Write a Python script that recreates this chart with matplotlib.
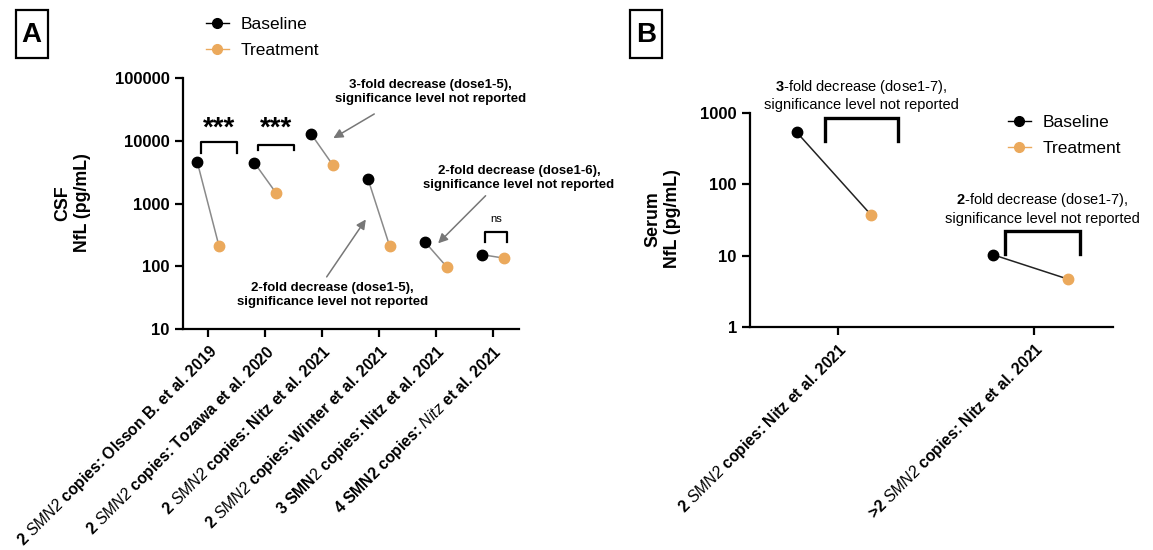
import numpy as np
import matplotlib.pyplot as plt
from matplotlib.lines import Line2D
from matplotlib.patches import Rectangle
from matplotlib.ticker import FuncFormatter, NullLocator

plt.rcParams['font.family'] = ['Liberation Sans', 'DejaVu Sans']
plt.rcParams['mathtext.fontset'] = 'custom'
plt.rcParams['mathtext.rm'] = 'Liberation Sans:italic'
plt.rcParams['mathtext.it'] = 'Liberation Sans:italic'
plt.rcParams['mathtext.bf'] = 'Liberation Sans:bold'
plt.rcParams['mathtext.sf'] = 'Liberation Sans'

# panel A: CSF NfL
csf_labels = [
    r'2 $SMN2$ copies: Olsson B. et al. 2019',
    r'2 $SMN2$ copies: Tozawa et al. 2020',
    r'2 $SMN2$ copies: Nitz et al. 2021',
    r'2 $SMN2$ copies: Winter et al. 2021',
    r'3 SMN$\mathsf{2}$ copies: Nitz et al. 2021',
    r'4 SMN2 copies: $Nitz$ et al. 2021',
]
csf_baseline = [4600, 4500, 12800, 2430, 243, 153]
csf_treatment = [213, 1490, 4120, 208, 98, 135]

# panel B: serum NfL
serum_labels = [
    r'2 $SMN2$ copies: Nitz et al. 2021',
    r'>2 $SMN2$ copies: Nitz et al. 2021',
]
serum_baseline = [540, 10.3]
serum_treatment = [37, 4.7]

black = '#000000'
orange = '#EBA95C'
W, H = 1153, 550

fig = plt.figure(figsize=(11.53, 5.5), dpi=100)
axA = fig.add_axes([183 / W, 1 - 329 / H, 336 / W, 251 / H])
axB = fig.add_axes([750 / W, 1 - 327 / H, 363 / W, 214 / H])


def style_axis(ax):
    ax.set_yscale('log')
    ax.yaxis.set_minor_locator(NullLocator())
    ax.yaxis.set_major_formatter(FuncFormatter(lambda v, p: f'{v:g}'))
    for s in ['top', 'right']:
        ax.spines[s].set_visible(False)
    for s in ['left', 'bottom']:
        ax.spines[s].set_linewidth(1.6)
    ax.tick_params(direction='out', length=6, width=1.6, labelsize=12)
    for t in ax.get_yticklabels():
        t.set_fontweight('bold')


# ---- panel A
x = np.arange(len(csf_labels))
off = 0.19
for i in range(len(x)):
    axA.plot([x[i] - off, x[i] + off], [csf_baseline[i], csf_treatment[i]],
             color='#8a8a8a', lw=1.1, zorder=1)
axA.plot(x - off, csf_baseline, 'o', color=black, ms=7.5, zorder=3, ls='none')
axA.plot(x + off, csf_treatment, 'o', color=orange, ms=7.5, zorder=3, ls='none')
axA.set_ylim(10, 100000)
axA.set_xlim(-0.44, 5.46)
axA.set_yticks([10, 100, 1000, 10000, 100000])
style_axis(axA)
axA.set_xticks(x)
axA.set_xticklabels(csf_labels, rotation=45, ha='right', rotation_mode='anchor',
                    fontweight='bold', fontsize=11.3)

# significance brackets
for x0, x1, ytop, ybot, txt, fs, ty in [
        (-0.12, 0.51, 9570, 6470, '***', 20, 15500),
        (0.88, 1.51, 8670, 7200, '***', 20, 15500),
        (4.86, 5.25, 346, 240, 'ns', 8, 560)]:
    axA.plot([x0, x0, x1, x1], [ybot, ytop, ytop, ybot], color=black, lw=1.6,
             clip_on=False)
    axA.text((x0 + x1) / 2, ty, txt, ha='center', va='center', fontsize=fs,
             fontweight='bold' if txt != 'ns' else 'normal')

arrow = dict(arrowstyle='-|>', color='#777777', lw=1.1, mutation_scale=14,
             shrinkA=2, shrinkB=0)
axA.annotate('3-fold decrease (dose1-5),\nsignificance level not reported',
             xy=(2.2, 11000), xytext=(3.9, 60000), textcoords='data',
             ha='center', va='center', fontsize=9.5, fontweight='bold',
             annotation_clip=False, arrowprops=dict(arrow, relpos=(0.22, -0.3)))
axA.annotate('2-fold decrease (dose1-5),\nsignificance level not reported',
             xy=(2.77, 557), xytext=(2.19, 35), textcoords='data',
             ha='center', va='center', fontsize=9.5, fontweight='bold',
             annotation_clip=False, arrowprops=dict(arrow, relpos=(0.45, 1)))
axA.annotate('2-fold decrease (dose1-6),\nsignificance level not reported',
             xy=(4.04, 232), xytext=(5.46, 2540), textcoords='data',
             ha='center', va='center', fontsize=9.5, fontweight='bold',
             annotation_clip=False, arrowprops=dict(arrow, relpos=(0.35, 0)))

fig.text(73 / W, 1 - 203 / H, 'CSF\nNfL (pg/mL)', rotation=90, ha='center',
         va='center', multialignment='center', fontsize=12.8, fontweight='bold')

# ---- panel B
xb = np.arange(len(serum_labels))
for i in range(len(xb)):
    axB.plot([xb[i] - 0.21, xb[i] + 0.17], [serum_baseline[i], serum_treatment[i]],
             color='#222222', lw=1.1, zorder=1)
axB.plot(xb - 0.21, serum_baseline, 'o', color=black, ms=7.5, zorder=3, ls='none')
axB.plot(xb + 0.17, serum_treatment, 'o', color=orange, ms=7.5, zorder=3, ls='none')
axB.set_ylim(1, 1000)
axB.set_xlim(-0.447, 1.40)
axB.set_yticks([1, 10, 100, 1000])
style_axis(axB)
axB.set_xticks(xb)
axB.set_xticklabels(serum_labels, rotation=45, ha='right', rotation_mode='anchor',
                    fontweight='bold', fontsize=11.3)

for x0, x1, ytop, ybot in [(-0.066, 0.305, 851, 405), (0.853, 1.234, 22.2, 10.6)]:
    axB.plot([x0, x0, x1, x1], [ybot, ytop, ytop, ybot], color=black, lw=2.4,
             clip_on=False, solid_joinstyle='miter')
axB.text(0.12, 1766, r'$\mathbf{3}$-fold decrease (dose1-7),' + '\nsignificance level not reported',
         ha='center', va='center', fontsize=10.5)
axB.text(1.04, 45.9, r'$\mathbf{2}$-fold decrease (dose1-7),' + '\nsignificance level not reported',
         ha='center', va='center', fontsize=10.5)
fig.text(663 / W, 1 - 219 / H, 'Serum\nNfL (pg/mL)', rotation=90, ha='center',
         va='center', multialignment='center', fontsize=12.8, fontweight='bold')

# legends
handles = [Line2D([], [], color=black, marker='o', ms=7, lw=1, label='Baseline'),
           Line2D([], [], color=orange, marker='o', ms=7, lw=1, label='Treatment')]
leg_kw = dict(loc='upper left', frameon=False, fontsize=12.5, handlelength=1.3,
              handletextpad=0.7, labelspacing=0.62, borderaxespad=0)
fig.legend(handles=handles, bbox_to_anchor=(199 / W, 1 - 10 / H), **leg_kw)
fig.legend(handles=handles, bbox_to_anchor=(1001 / W, 1 - 108 / H), **leg_kw)

# panel letters
for bx, letter in [(15.7, 'A'), (630, 'B')]:
    fig.add_artist(Rectangle((bx / W, 1 - 58 / H), 32 / W, 48 / H, fill=False,
                             ec='black', lw=1.6, transform=fig.transFigure))
    fig.text((bx + 16) / W, 1 - 35 / H, letter, fontsize=20, fontweight='bold',
             ha='center', va='center')

fig.savefig('out.png', dpi=100)
